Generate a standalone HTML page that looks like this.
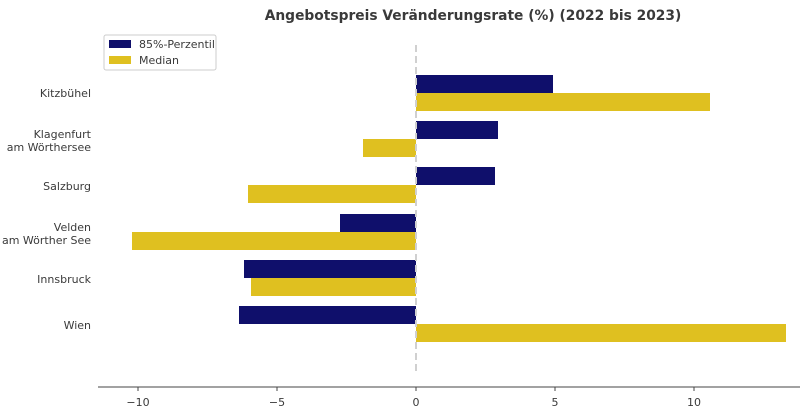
<!DOCTYPE html>
<html><head><meta charset="utf-8"><style>
html,body{margin:0;padding:0;background:#fff;}
svg{display:block;font-family:"DejaVu Sans","Liberation Sans",sans-serif;}
</style></head><body>
<svg width="800" height="420" viewBox="0 0 800 420">
<text x="473" y="20" text-anchor="middle" font-size="13.8" font-weight="bold" fill="#3a3a3a">Angebotspreis Veränderungsrate (%) (2022 bis 2023)</text>
<g fill="#0f0f6b">
<rect x="416" y="75" width="137" height="18"/>
<rect x="416" y="121" width="82" height="18"/>
<rect x="416" y="167" width="79" height="18"/>
<rect x="340" y="214" width="76" height="18"/>
<rect x="244" y="260" width="172" height="18"/>
<rect x="239" y="306" width="177" height="18"/>
</g>
<g fill="#dfc020">
<rect x="416" y="93" width="294" height="18"/>
<rect x="363" y="139" width="53" height="18"/>
<rect x="248" y="185" width="168" height="18"/>
<rect x="132" y="232" width="284" height="18"/>
<rect x="251" y="278" width="165" height="18"/>
<rect x="416" y="324" width="370" height="18"/>
</g>
<line x1="416" y1="45" x2="416" y2="372" stroke="#d0d0d0" stroke-width="2" stroke-dasharray="7,4"/>
<line x1="98" y1="387" x2="800" y2="387" stroke="#444" stroke-width="1"/>
<g stroke="#444"><line x1="138" y1="387" x2="138" y2="391"/><line x1="277" y1="387" x2="277" y2="391"/><line x1="416" y1="387" x2="416" y2="391"/><line x1="555" y1="387" x2="555" y2="391"/><line x1="694" y1="387" x2="694" y2="391"/></g>
<g font-size="11" fill="#3a3a3a" text-anchor="middle">
<text x="138" y="406">−10</text><text x="277" y="406">−5</text><text x="416" y="406">0</text><text x="555" y="406">5</text><text x="694" y="406">10</text>
</g>
<g font-size="11" fill="#3a3a3a" text-anchor="end">
<text x="91" y="97">Kitzbühel</text>
<text x="91" y="138">Klagenfurt</text><text x="91" y="151">am Wörthersee</text>
<text x="91" y="190">Salzburg</text>
<text x="91" y="231">Velden </text><text x="91" y="244">am Wörther See</text>
<text x="91" y="283">Innsbruck</text>
<text x="91" y="329">Wien</text>
</g>
<rect x="104" y="35" width="112" height="35" fill="#fff" stroke="#ccc" rx="2"/>
<rect x="109" y="40" width="22" height="8" fill="#0f0f6b"/>
<text x="139" y="48" font-size="11" fill="#3a3a3a">85%-Perzentil</text>
<rect x="109" y="56" width="22" height="8" fill="#dfc020"/>
<text x="139" y="64" font-size="11" fill="#3a3a3a">Median</text>
</svg>
</body></html>
